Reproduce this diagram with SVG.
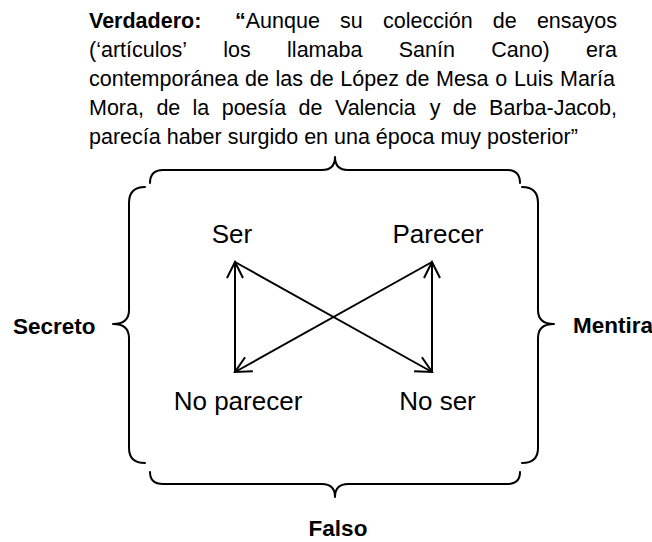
<svg xmlns="http://www.w3.org/2000/svg" width="652" height="542" viewBox="0 0 652 542">
  <style>
    text { font-family: "Liberation Sans", Arial, sans-serif; fill: #000; }
    .para { font-size: 21.5px; }
    .b { font-weight: bold; }
    .node { font-size: 26px; }
    .side { font-size: 22.5px; font-weight: bold; }
    .brace { fill: none; stroke: #000; stroke-width: 2; stroke-linecap: round; stroke-linejoin: round; }
    .conn { fill: none; stroke: #000; stroke-width: 2; }
  </style>
  <defs>
    <marker id="arrow" viewBox="0 0 20 20" refX="18" refY="10" markerWidth="20" markerHeight="20" markerUnits="userSpaceOnUse" orient="auto">
      <path d="M2,2 L18,10 L2,18" fill="none" stroke="#000" stroke-width="2" stroke-linejoin="miter"/>
    </marker>
  </defs>
  <rect width="652" height="542" fill="#fff"/>

  <g id="verdadero">
    <text class="para" y="28"><tspan x="89" class="b">Verdadero:</tspan><tspan x="235"><tspan class="b">“</tspan>Aunque</tspan><tspan x="340.1">su</tspan><tspan x="383">colección</tspan><tspan x="492.8">de</tspan><tspan x="536.9">ensayos</tspan></text>
    <text class="para" y="57"><tspan x="89">(‘artículos’</tspan><tspan x="223.3">los</tspan><tspan x="287.1">llamaba</tspan><tspan x="398.7">Sanín</tspan><tspan x="491.2">Cano)</tspan><tspan x="586">era</tspan></text>
    <text class="para" y="86"><tspan x="89">contemporánea</tspan><tspan x="245">de</tspan><tspan x="275.6">las</tspan><tspan x="309.7">de</tspan><tspan x="340.3">López</tspan><tspan x="405.5">de</tspan><tspan x="436">Mesa</tspan><tspan x="495.3">o</tspan><tspan x="513.9">Luis</tspan><tspan x="560">María</tspan></text>
    <text class="para" y="115"><tspan x="89">Mora,</tspan><tspan x="156.4">de</tspan><tspan x="192.6">la</tspan><tspan x="221.7">poesía</tspan><tspan x="298.6">de</tspan><tspan x="334.9">Valencia</tspan><tspan x="429.7">y</tspan><tspan x="452.8">de</tspan><tspan x="489.1">Barba-Jacob,</tspan></text>
    <text class="para" x="89" y="144">parecía haber surgido en una época muy posterior”</text>
  </g>

  <g id="braces">
    <path class="brace" d="M150,183 Q150,170 163,170 L322,170 Q335,170 335,157 Q335,170 348,170 L507,170 Q520,170 520,183"/>
    <path class="brace" d="M145,187 Q129,187 129,203 L129,310 Q129,324 113,324 Q129,324 129,338 L129,448 Q129,463 145,463"/>
    <path class="brace" d="M522,187 Q538,187 538,203 L538,310 Q538,324 554,324 Q538,324 538,338 L538,448 Q538,463 522,463"/>
    <path class="brace" d="M150,472 Q150,484 163,484 L322,484 Q335,484 335,497 Q335,484 348,484 L507,484 Q520,484 520,472"/>
  </g>

  <g id="secreto"><text class="side" x="13" y="334">Secreto</text></g>
  <g id="mentira"><text class="side" x="573" y="333">Mentira</text></g>
  <g id="falso"><text class="side" x="338" y="536" text-anchor="middle">Falso</text></g>

  <g id="ser"><text class="node" x="232" y="243" text-anchor="middle">Ser</text></g>
  <g id="parecer"><text class="node" x="438" y="243" text-anchor="middle">Parecer</text></g>
  <g id="no-parecer"><text class="node" x="238" y="410" text-anchor="middle">No parecer</text></g>
  <g id="no-ser"><text class="node" x="437.5" y="410" text-anchor="middle">No ser</text></g>

  <g id="connectors">
    <line class="conn" x1="235" y1="372" x2="235" y2="262" marker-end="url(#arrow)"/>
    <line class="conn" x1="235" y1="262" x2="432" y2="372" marker-end="url(#arrow)"/>
    <line class="conn" x1="432" y1="372" x2="432" y2="262" marker-end="url(#arrow)"/>
    <line class="conn" x1="432" y1="262" x2="235" y2="372" marker-end="url(#arrow)"/>
  </g>
</svg>
